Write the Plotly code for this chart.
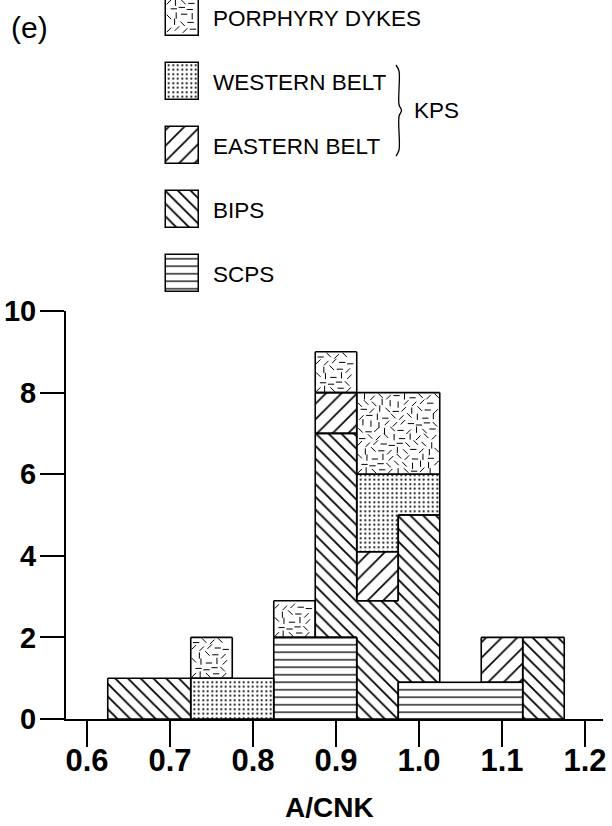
import plotly.graph_objects as go

# ---- A/CNK blocks for each suite: left edge, right edge, bottom, top (counts) ----
scps_left = [0.825, 0.975]
scps_right = [0.925, 1.125]
scps_bottom = [0, 0]
scps_top = [2, 0.9]

bips_left = [0.625, 0.875, 0.925, 0.975, 1.125]
bips_right = [0.725, 0.925, 0.975, 1.025, 1.175]
bips_bottom = [0, 2, 0, 0.9, 0]
bips_top = [1, 7, 2.9, 5, 2]

east_left = [0.875, 0.925, 1.075]
east_right = [0.925, 0.975, 1.125]
east_bottom = [7, 2.9, 0.9]
east_top = [8, 4.1, 2]

west_left = [0.725, 0.925, 0.975]
west_right = [0.825, 0.975, 1.025]
west_bottom = [0, 4.1, 5]
west_top = [1, 6, 6]

dyke_left = [0.725, 0.825, 0.875, 0.925]
dyke_right = [0.775, 0.875, 0.925, 1.025]
dyke_bottom = [1, 2, 8, 6]
dyke_top = [2, 2.9, 9, 8]

x_ticks = [0.6, 0.7, 0.8, 0.9, 1.0, 1.1, 1.2]
x_tick_text = ["0.6", "0.7", "0.8", "0.9", "1.0", "1.1", "1.2"]
y_ticks = [0, 2, 4, 6, 8, 10]
legend_names = ["PORPHYRY DYKES", "WESTERN BELT", "EASTERN BELT", "BIPS", "SCPS"]

# ---- layout geometry ----
W, H = 612, 826
MB = 107
PLOT_H = H - MB
X_RANGE = [0.5747, 1.2217]
Y_RANGE = [0, 10]
X_DOM = [66 / W, 603 / W]
Y_DOM = [0, 408 / PLOT_H]
SX = (X_DOM[1] - X_DOM[0]) * W / (X_RANGE[1] - X_RANGE[0])   # px per A/CNK unit
SY = (Y_DOM[1] - Y_DOM[0]) * PLOT_H / (Y_RANGE[1] - Y_RANGE[0])  # px per count

FONT = "Liberation Sans, Arial, sans-serif"

groups = [
    dict(name="SCPS", l=scps_left, r=scps_right, b=scps_bottom, t=scps_top,
         pattern=dict(shape="-", size=7.5, solidity=0.17)),
    dict(name="BIPS", l=bips_left, r=bips_right, b=bips_bottom, t=bips_top,
         pattern=dict(shape="\\", size=9, solidity=0.2)),
    dict(name="EASTERN BELT", l=east_left, r=east_right, b=east_bottom, t=east_top,
         pattern=dict(shape="/", size=11, solidity=0.15)),
    dict(name="WESTERN BELT", l=west_left, r=west_right, b=west_bottom, t=west_top,
         pattern=dict(shape=".", size=4.5, solidity=0.16)),
    dict(name="PORPHYRY DYKES", l=dyke_left, r=dyke_right, b=dyke_bottom, t=dyke_top,
         pattern=None),
]


def subtract(seg, cuts):
    pieces = [seg]
    for c, d in cuts:
        nxt = []
        for a, b in pieces:
            if d <= a or c >= b:
                nxt.append((a, b))
                continue
            if c > a:
                nxt.append((a, c))
            if d < b:
                nxt.append((d, b))
        pieces = nxt
    return [p for p in pieces if p[1] - p[0] > 1e-9]


def outline(left, right, bottom, top):
    """Outer boundary of a suite's blocks (edges shared by two blocks of the same suite are dropped)."""
    rects = list(zip(left, right, bottom, top))
    xs, ys = [], []
    eq = lambda u, v: abs(u - v) < 1e-9
    for i, (x0, x1, y0, y1) in enumerate(rects):
        others = [q for j, q in enumerate(rects) if j != i]
        for a, b in subtract((y0, y1), [(q[2], q[3]) for q in others if eq(q[1], x0)]):
            xs += [x0, x0, None]; ys += [a, b, None]
        for a, b in subtract((y0, y1), [(q[2], q[3]) for q in others if eq(q[0], x1)]):
            xs += [x1, x1, None]; ys += [a, b, None]
        for a, b in subtract((x0, x1), [(q[0], q[1]) for q in others if eq(q[3], y0)]):
            xs += [a, b, None]; ys += [y0, y0, None]
        for a, b in subtract((x0, x1), [(q[0], q[1]) for q in others if eq(q[2], y1)]):
            xs += [a, b, None]; ys += [y1, y1, None]
    return xs, ys


SYMS = ["line-ne", "line-ew", "line-nw", "line-ns"]


def dash_texture(left, right, bottom, top, sx, sy, step=8.0, pad=3.0):
    """Scattered short dashes filling each block (porphyry texture)."""
    xs, ys, syms = [], [], []
    for x0, x1, y0, y1 in zip(left, right, bottom, top):
        w = abs((x1 - x0) * sx)
        h = abs((y1 - y0) * sy)
        j = 0
        py = pad
        while py <= h - pad + 0.01:
            i = 0
            px = pad + (j % 2) * step / 2
            while px <= w - pad + 0.01:
                dx = ((i * 5 + j * 3) % 5 - 2) * 0.8
                dy = ((i * 3 + j * 7) % 5 - 2) * 0.7
                qx = min(max(px + dx, pad), w - pad)
                qy = min(max(py + dy, pad), h - pad)
                xs.append(x0 + qx / sx)
                ys.append(y0 + qy / sy)
                syms.append(SYMS[(i * 3 + j * 5 + (i * j) % 3) % 4])
                i += 1
                px += step
            j += 1
            py += step * 0.85
    return xs, ys, syms


def texture_trace(xs, ys, syms, xa, ya):
    return go.Scatter(x=xs, y=ys, mode="markers", showlegend=False, hoverinfo="skip",
                      marker=dict(symbol=syms, size=4.5, color="black",
                                  line=dict(color="black", width=1.0)),
                      xaxis=xa, yaxis=ya)


fig = go.Figure()

# ---- histogram blocks ----
for g in groups:
    cx = [(a + b) / 2 for a, b in zip(g["l"], g["r"])]
    wd = [b - a for a, b in zip(g["l"], g["r"])]
    ht = [t - b for b, t in zip(g["b"], g["t"])]
    marker = dict(color="white", line=dict(width=0))
    if g["pattern"]:
        marker["pattern"] = dict(fgcolor="black", bgcolor="white", fillmode="replace", **g["pattern"])
    fig.add_trace(go.Bar(x=cx, y=ht, base=g["b"], width=wd, marker=marker,
                         name=g["name"], showlegend=False, hoverinfo="skip",
                         xaxis="x", yaxis="y"))
    if g["pattern"] is None:
        fig.add_trace(texture_trace(*dash_texture(g["l"], g["r"], g["b"], g["t"], SX, SY), "x", "y"))

for g in groups:
    ox, oy = outline(g["l"], g["r"], g["b"], g["t"])
    fig.add_trace(go.Scatter(x=ox, y=oy, mode="lines", line=dict(color="black", width=1.6),
                             showlegend=False, hoverinfo="skip", xaxis="x", yaxis="y"))

# ---- key (drawn on a pixel-scaled overlay axis) ----
KEY_X0, KEY_W, KEY_H, KEY_STEP, KEY_TOP = 166, 33, 37, 64, -1
key_order = ["PORPHYRY DYKES", "WESTERN BELT", "EASTERN BELT", "BIPS", "SCPS"]
by_name = {g["name"]: g for g in groups}
for k, nm in enumerate(key_order):
    g = by_name[nm]
    top = KEY_TOP + k * KEY_STEP
    marker = dict(color="white", line=dict(color="black", width=1.5))
    if g["pattern"]:
        marker["pattern"] = dict(fgcolor="black", bgcolor="white", fillmode="replace", **g["pattern"])
    fig.add_trace(go.Bar(x=[KEY_X0 + KEY_W / 2], y=[KEY_H], base=[top], width=[KEY_W],
                         marker=marker, showlegend=False, hoverinfo="skip",
                         xaxis="x2", yaxis="y2"))
    if g["pattern"] is None:
        fig.add_trace(texture_trace(*dash_texture([KEY_X0], [KEY_X0 + KEY_W], [top], [top + KEY_H], 1, 1),
                                    "x2", "y2"))
    fig.add_annotation(x=KEY_X0 + KEY_W + 12, y=top + KEY_H / 2 + 1, xref="x2", yref="y2",
                       text=legend_names[k], showarrow=False, xanchor="left", yanchor="middle",
                       font=dict(family=FONT, size=22.5, color="black"))

# brace grouping the two KPS belts
yt = KEY_TOP + 1 * KEY_STEP + 2
yb = KEY_TOP + 2 * KEY_STEP + KEY_H - 8
ym = (yt + yb) / 2
xb = 399
fig.add_trace(go.Scatter(
    x=[xb - 3, xb, xb, xb + 2.5, xb, xb, xb - 3],
    y=[yt, yt + 6, ym - 6, ym, ym + 6, yb - 6, yb],
    mode="lines", line=dict(color="black", width=1.3, shape="spline"),
    showlegend=False, hoverinfo="skip", xaxis="x2", yaxis="y2"))
fig.add_annotation(x=412, y=ym, xref="x2", yref="y2", text="KPS", showarrow=False,
                   xanchor="left", yanchor="middle", font=dict(family=FONT, size=22.5, color="black"))

fig.add_annotation(x=29, y=27, xref="x2", yref="y2", text="(e)", showarrow=False,
                   xanchor="center", yanchor="middle", font=dict(family=FONT, size=30, color="black"))
# axis title, sitting in the bottom margin
fig.add_annotation(x=329 / W, y=-(824 - PLOT_H) / PLOT_H, xref="paper", yref="paper", text="A/CNK",
                   showarrow=False, xanchor="center", yanchor="bottom", borderpad=0,
                   font=dict(family=FONT, size=28, color="black", weight="bold"))

fig.update_layout(
    width=W, height=H,
    margin=dict(l=0, r=0, t=0, b=MB, pad=0, autoexpand=False),
    paper_bgcolor="white", plot_bgcolor="rgba(0,0,0,0)",
    barmode="overlay", bargap=0, showlegend=False,
    xaxis=dict(domain=X_DOM, range=X_RANGE, tickvals=x_ticks, ticktext=x_tick_text,
               showline=True, linecolor="black", linewidth=2, ticks="outside", ticklen=26,
               tickwidth=2, tickcolor="black", showgrid=False, zeroline=False, automargin=False,
               ticklabelstandoff=-13,
               tickfont=dict(family=FONT, size=31, color="black", weight="bold"),
               anchor="y", layer="above traces"),
    yaxis=dict(domain=Y_DOM, range=Y_RANGE, tickvals=y_ticks,
               showline=True, linecolor="black", linewidth=2, ticks="outside", ticklen=24,
               tickwidth=2, tickcolor="black", showgrid=False, zeroline=False, automargin=False,
               ticklabelstandoff=-2,
               tickfont=dict(family=FONT, size=29, color="black", weight="bold"),
               anchor="x", layer="above traces"),
    xaxis2=dict(domain=[0, 1], range=[0, W], visible=False, anchor="y2", fixedrange=True,
                automargin=False),
    yaxis2=dict(domain=[0, 1], range=[PLOT_H, 0], visible=False, anchor="x2", fixedrange=True,
                automargin=False),
)

fig.write_html("out.html")
